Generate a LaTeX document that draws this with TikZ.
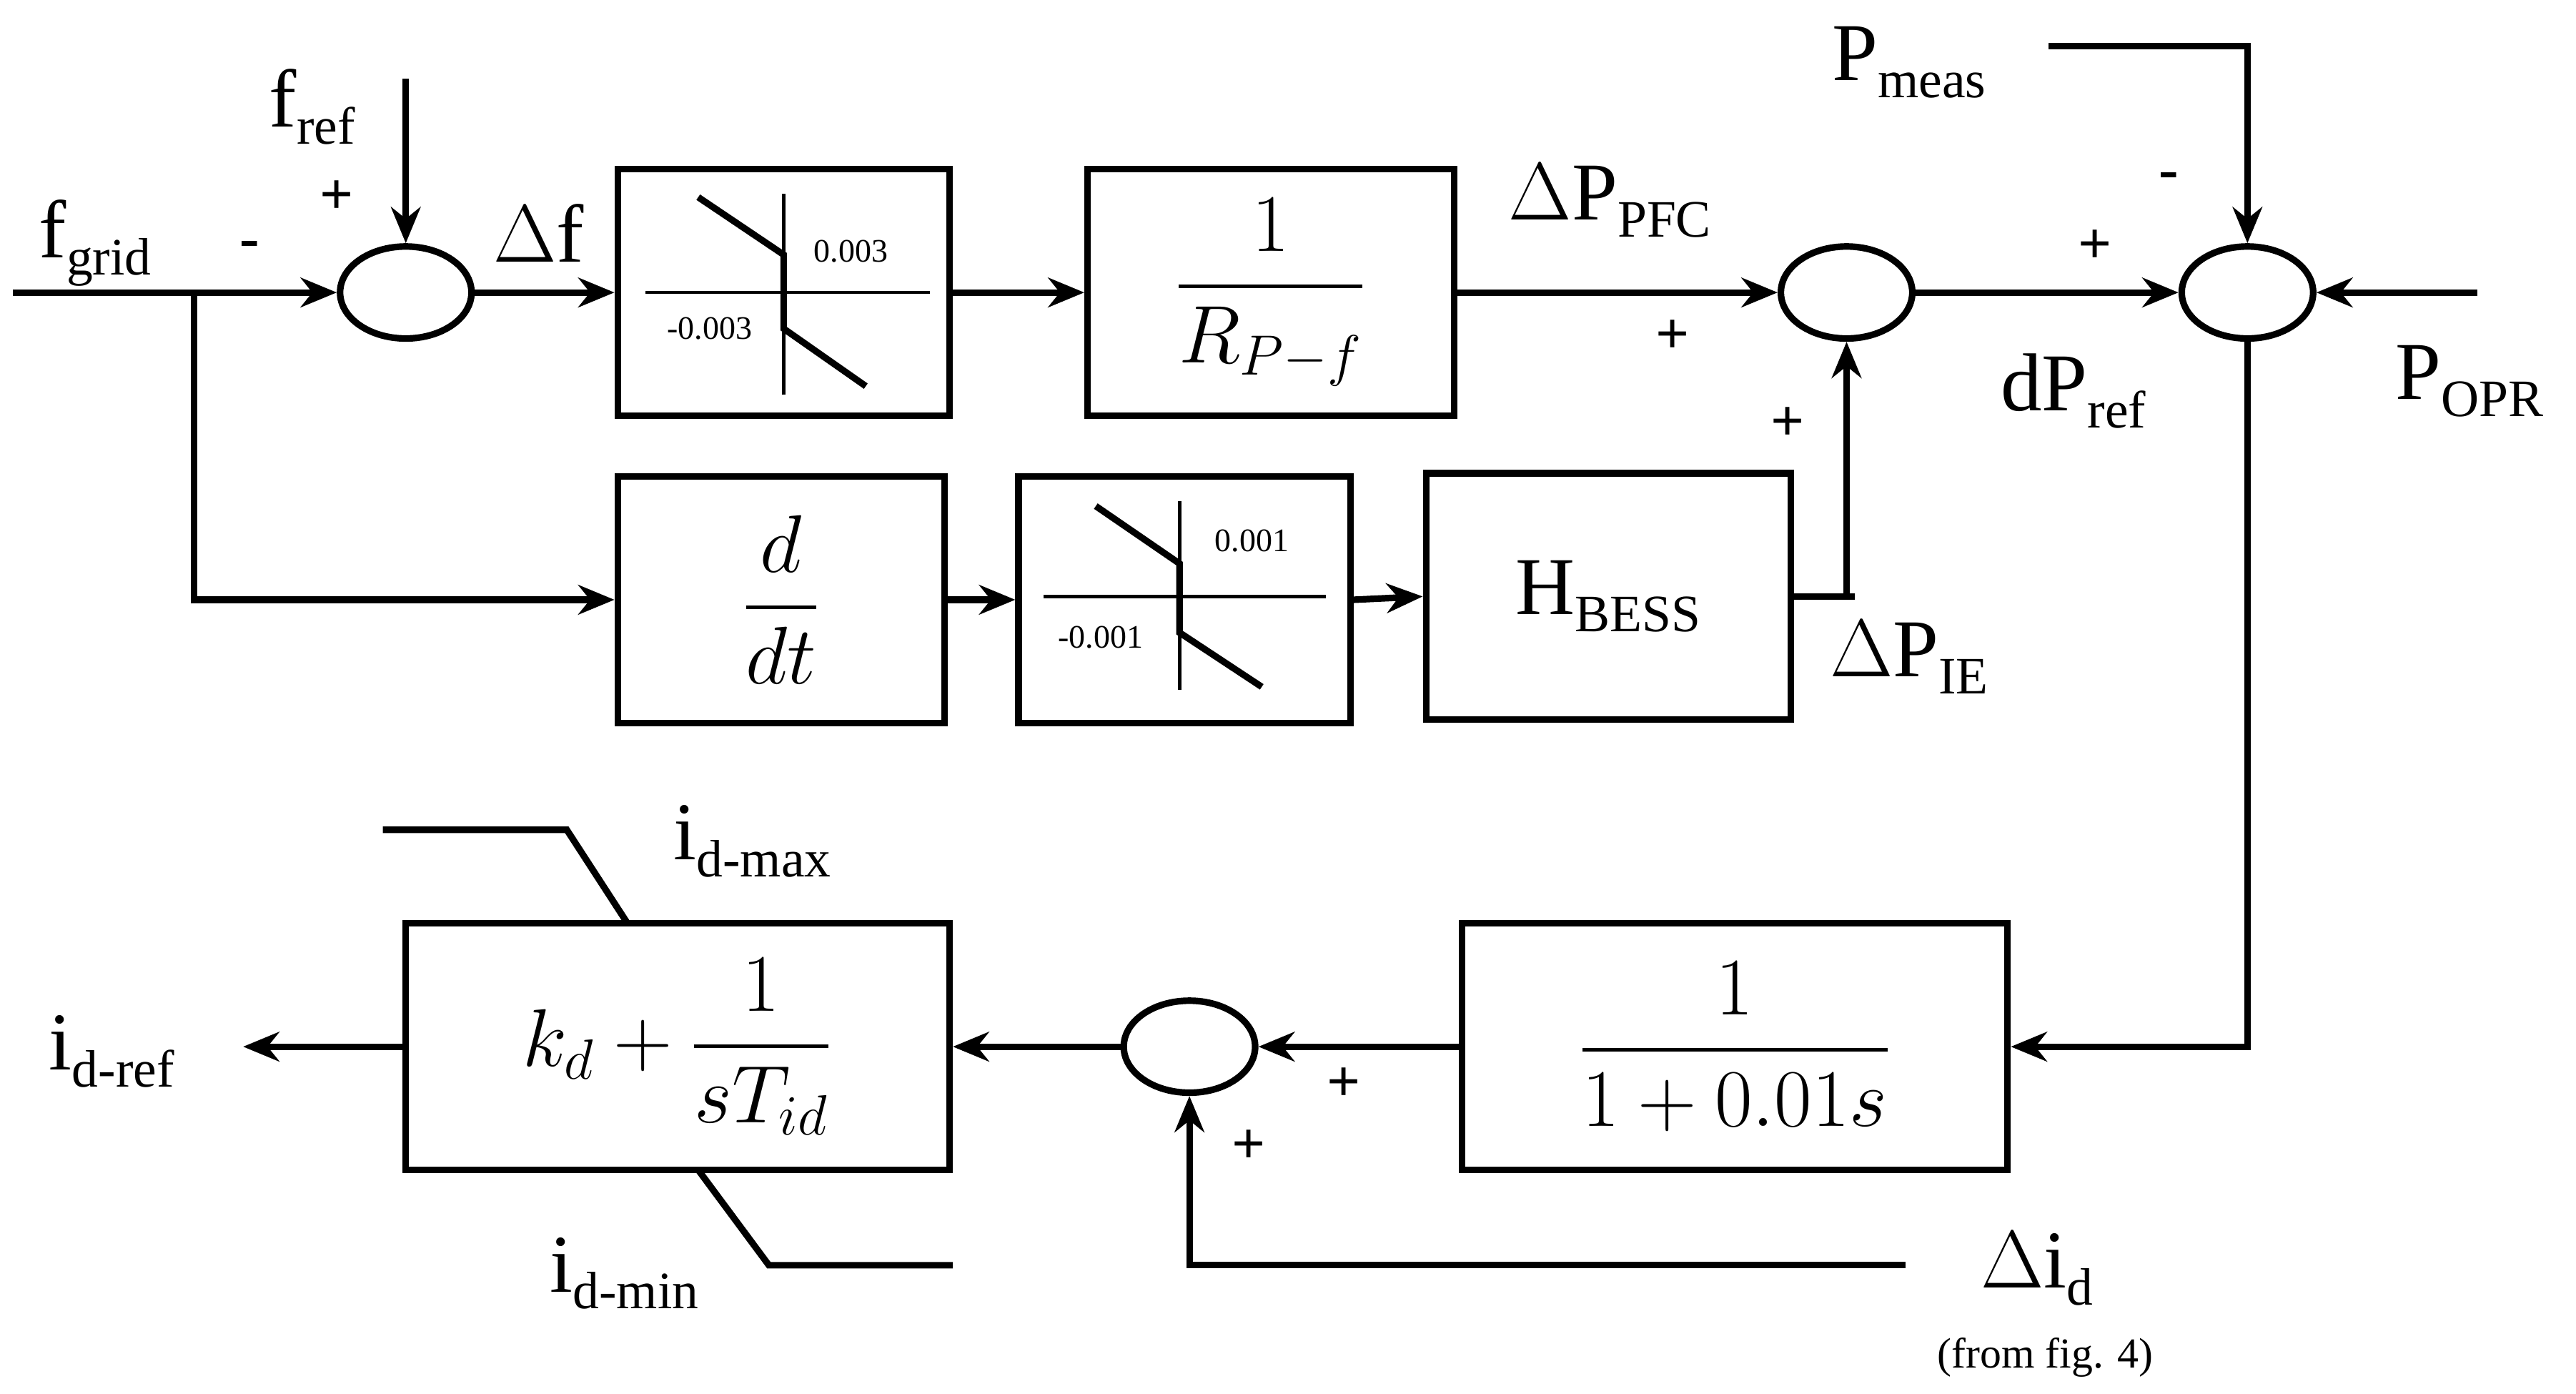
\documentclass[tikz,border=0pt]{standalone}
\usepackage{amsmath}
\usepackage{fontspec}
\setmainfont{Liberation Serif}
\usetikzlibrary{arrows.meta,shapes.geometric}
\newcommand\sbs[1]{\raisebox{-0.45ex}{\fontsize{16}{17}\selectfont #1}}
\begin{document}
\begin{tikzpicture}[x=0.5pt,y=-0.5pt,line width=2pt,
 box/.style={draw,rectangle,minimum height=75pt,inner sep=0pt},
 sum/.style={draw,ellipse,minimum width=40pt,minimum height=28pt,inner sep=0pt},
 arr/.style={-{Stealth[length=11pt,width=9pt]}},
 lbl/.style={font=\fontsize{25}{28}\selectfont,inner sep=0pt},
 sml/.style={font=\fontsize{10}{12}\selectfont,inner sep=0pt},
 pm/.style={font=\fontsize{18}{20}\selectfont\bfseries,inner sep=0pt}]
\useasboundingbox (0,0) rectangle (1568,848);
% nodes
\node[sum] (c1) at (247,178) {};
\node[sum] (c2) at (1124,178) {};
\node[sum] (c3) at (1368,178) {};
\node[sum] (c4) at (724,637) {};
\node[box,minimum width=101pt] (b1) at (477,178) {};
\node[box,minimum width=111.5pt] (b2) at (773.5,178) {\fontsize{26}{30}\selectfont$\dfrac{1}{R_{P-f}}$};
\node[box,minimum width=99.5pt] (dd) at (475.5,365) {\fontsize{26}{30}\selectfont$\dfrac{d}{dt}$};
\node[box,minimum width=101pt] (b3) at (721,365) {};
\node[box,minimum width=111pt] (hb) at (979,363) {\fontsize{25}{28}\selectfont H\sbs{BESS}};
\node[box,minimum width=166pt] (fl) at (1056,637) {\fontsize{26}{30}\selectfont$\dfrac{1}{1+0.01s}$};
\node[box,minimum width=165.5pt] (kd) at (412.5,637) {\fontsize{26}{30}\selectfont$k_d+\dfrac{1}{sT_{id}}$};
% deadbands
\draw[line width=1pt] (393,178) -- (566,178) (477,118) -- (477,240);
\draw[line width=2pt] (425,120) -- (477,155) -- (477,200) -- (527,235);
\node[sml] (t1) at (518,153) {0.003};
\node[sml] (t2) at (432,200) {-0.003};
\draw[line width=1pt] (635,363) -- (807,363) (718,305) -- (718,420);
\draw[line width=2pt] (667,308) -- (718,343) -- (718,385) -- (768,418);
\node[sml] (t3) at (762,329) {0.001};
\node[sml] (t4) at (670,388) {-0.001};
% coordinates
\coordinate (fin) at (8,178);
\coordinate (br) at (118,178);
\coordinate (fr) at (247,48);
\coordinate (pm0) at (1247,28);
\coordinate (po) at (1508,178);
\coordinate (id0) at (1160,770);
\coordinate (io) at (148,637);
% connectors
\draw[arr] (fin) -- (c1.west);
\draw[arr] (fr) -- (c1.north);
\draw[arr] (c1.east) -- (b1.west);
\draw[arr] (b1.east) -- (b2.west);
\draw[arr] (b2.east) -- (c2.west);
\draw[arr] (br) |- (dd.west);
\draw[arr] (dd.east) -- (b3.west);
\draw[arr] (b3.east) -- (hb.west);
\draw[arr] (hb.east) -- ++(37,0) -| (c2.south);
\draw[arr] (c2.east) -- (c3.west);
\draw[arr] (pm0) -| (c3.north);
\draw[arr] (po) -- (c3.east);
\draw[arr] (c3.south) |- (fl.east);
\draw[arr] (fl.west) -- (c4.east);
\draw[arr] (id0) -| (c4.south);
\draw[arr] (c4.west) -- (kd.east);
\draw[arr] (kd.west) -- (io);
\draw (233,505) -- (345,505) -- (382,562);
\draw (425,712) -- (468,770) -- (580,770);
% labels
\node[lbl] (l1) at (58,148) {f\sbs{grid}};
\node[lbl] (l2) at (190,65) {f\sbs{ref}};
\node[lbl] (l3) at (328,142) {$\Delta$f};
\node[lbl] (l4) at (980,122) {$\Delta$P\sbs{PFC}};
\node[lbl] (l5) at (1162,400) {$\Delta$P\sbs{IE}};
\node[lbl] (l6) at (1262,238) {dP\sbs{ref}};
\node[lbl] (l7) at (1162,38) {P\sbs{meas}};
\node[lbl] (l8) at (1503,232) {P\sbs{OPR}};
\node[lbl] (l9) at (68,640) {i\sbs{d-ref}};
\node[lbl] (l10) at (458,512) {i\sbs{d-max}};
\node[lbl] (l11) at (380,775) {i\sbs{d-min}};
\node[lbl] (l12) at (1240,772) {$\Delta$i\sbs{d}};
\node[font=\fontsize{13}{15}\selectfont,inner sep=0pt] (l13) at (1245,826) {(from fig. 4)};
\node[pm] (p1) at (152,152) {-};
\node[pm] (p2) at (205,120) {+};
\node[pm] (p3) at (1018,205) {+};
\node[pm] (p4) at (1088,258) {+};
\node[pm] (p5) at (1275,150) {+};
\node[pm] (p6) at (1320,110) {-};
\node[pm] (p7) at (818,660) {+};
\node[pm] (p8) at (760,698) {+};
\end{tikzpicture}
\end{document}
